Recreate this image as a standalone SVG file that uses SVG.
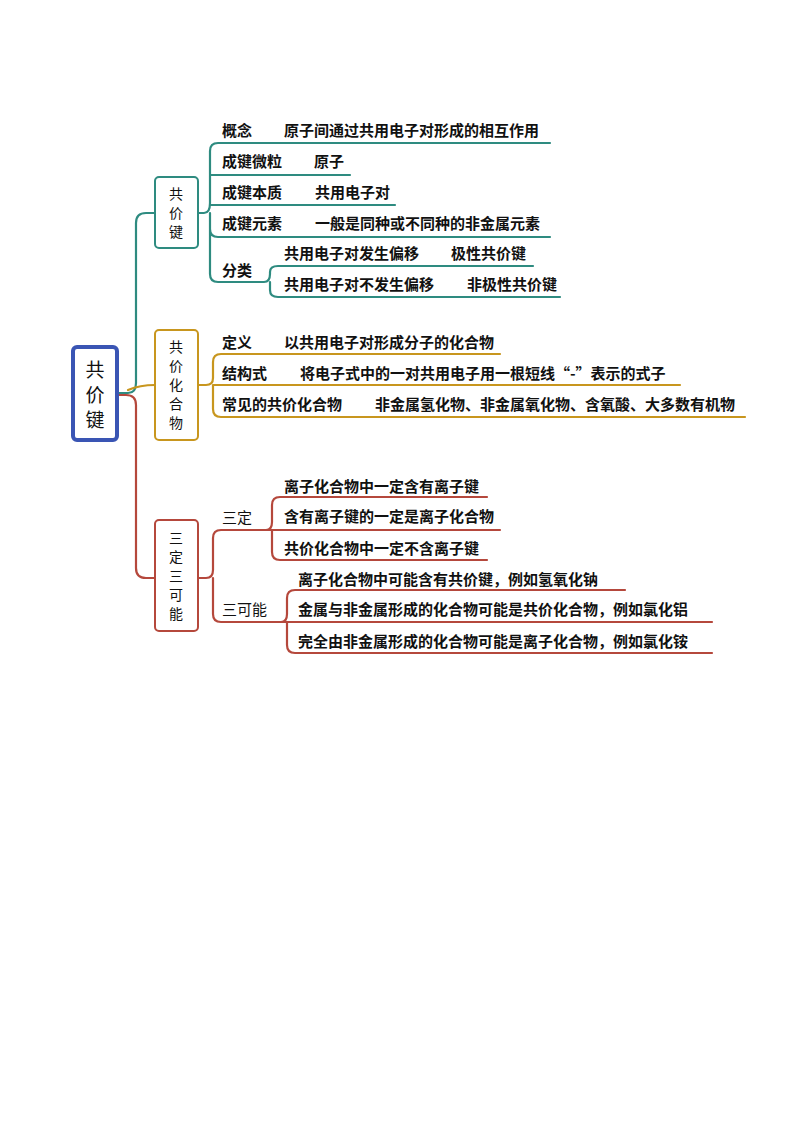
<svg xmlns="http://www.w3.org/2000/svg" width="794" height="1123" viewBox="0 0 794 1123">
<style>
text{font-family:"Noto Sans CJK SC","Liberation Sans",sans-serif;font-size:15px;font-weight:bold;fill:#111}
.t{stroke:#2e8b80;fill:none;stroke-width:2.2;stroke-linecap:round}
.g{stroke:#c8961e;fill:none;stroke-width:2.2;stroke-linecap:round}
.r{stroke:#b5483c;fill:none;stroke-width:2.2;stroke-linecap:round}
.v{font-size:14px;text-anchor:middle;font-weight:normal}
</style>
<rect width="794" height="1123" fill="#fff"/>
<g id="connectors">
<path d="M117 393 H128 Q136 393 136 383 V223 Q136 213 146 213 H155" class="t" stroke-width="6"/>
<path d="M117 395 H126 Q136 395 136 405 V568 Q136 578 146 578 H155" class="r" stroke-width="6"/>
<path d="M128 390 Q140 385 155 385" class="g" stroke-width="4"/>
<path d="M198 213 H204 Q210 213 210 203 V151 Q210 143 218 143 H550 M210 213 V229 Q210 237 218 237 H550 M210 175 H350 M210 205 H395 M210 223 V274 Q210 282 218 282 H264 M264 282 Q270 282 270 274 V272 Q270 266 278 266 H533 M270 282 V290 Q270 297 278 297 H560" class="t"/>
<path d="M198 385 H206 Q213 385 213 378 V362 Q213 354 221 354 H500 M213 385 H680 M213 385 V409 Q213 417 221 417 H745" class="g"/>
<path d="M198 578 H206 Q213 578 213 570 V538 Q213 530 221 530 H266 M213 578 V614 Q213 622 221 622 H281 M266 530 Q272 530 272 522 V505 Q272 497 280 497 H487 M266 530 H500 M272 530 V552 Q272 560 280 560 H487 M281 622 Q287 622 287 614 V598 Q287 590 295 590 H625 M281 622 H712 M287 622 V645 Q287 653 295 653 H712" class="r"/>
</g>
<g id="root"><rect x="73" y="347" width="44" height="93" rx="4" fill="#fff" stroke="#3a55b4" stroke-width="4"/>
<text class="v" x="95" y="377" style="font-size:19px">共</text><text class="v" x="95" y="402" style="font-size:19px">价</text><text class="v" x="95" y="427" style="font-size:19px">键</text></g>
<g id="n1"><rect x="155" y="177" width="43" height="71" rx="4" fill="#fff" stroke="#2e8b80" stroke-width="2"/>
<text class="v" x="176" y="199">共</text><text class="v" x="176" y="218">价</text><text class="v" x="176" y="237">键</text></g>
<g id="n2"><rect x="155" y="330" width="43" height="110" rx="4" fill="#fff" stroke="#c8961e" stroke-width="2"/>
<text class="v" x="176" y="352">共</text><text class="v" x="176" y="371">价</text><text class="v" x="176" y="390">化</text><text class="v" x="176" y="409">合</text><text class="v" x="176" y="428">物</text></g>
<g id="n3"><rect x="155" y="520" width="43" height="111" rx="4" fill="#fff" stroke="#b5483c" stroke-width="2"/>
<text class="v" x="176" y="543">三</text><text class="v" x="176" y="562">定</text><text class="v" x="176" y="581">三</text><text class="v" x="176" y="600">可</text><text class="v" x="176" y="619">能</text></g>
<g id="labels">
<text x="222" y="136">概念</text><text x="284" y="136">原子间通过共用电子对形成的相互作用</text>
<text x="222" y="167">成键微粒</text><text x="314" y="167">原子</text>
<text x="222" y="198">成键本质</text><text x="315" y="198">共用电子对</text>
<text x="222" y="229">成键元素</text><text x="315" y="229">一般是同种或不同种的非金属元素</text>
<text x="222" y="276">分类</text>
<text x="284" y="259">共用电子对发生偏移</text><text x="451" y="259">极性共价键</text>
<text x="284" y="290">共用电子对不发生偏移</text><text x="467" y="290">非极性共价键</text>
<text x="222" y="348">定义</text><text x="284" y="348">以共用电子对形成分子的化合物</text>
<text x="222" y="379">结构式</text><text x="300" y="379">将电子式中的一对共用电子用一根短线“-”表示的式子</text>
<text x="222" y="410">常见的共价化合物</text><text x="375" y="410">非金属氢化物、非金属氧化物、含氧酸、大多数有机物</text>
<text x="222" y="523" style="font-weight:normal">三定</text>
<text x="284" y="492">离子化合物中一定含有离子键</text>
<text x="284" y="522">含有离子键的一定是离子化合物</text>
<text x="284" y="554">共价化合物中一定不含离子键</text>
<text x="222" y="615" style="font-weight:normal">三可能</text>
<text x="298" y="585">离子化合物中可能含有共价键，例如氢氧化钠</text>
<text x="298" y="615">金属与非金属形成的化合物可能是共价化合物，例如氯化铝</text>
<text x="298" y="647">完全由非金属形成的化合物可能是离子化合物，例如氯化铵</text>
</g>
</svg>
